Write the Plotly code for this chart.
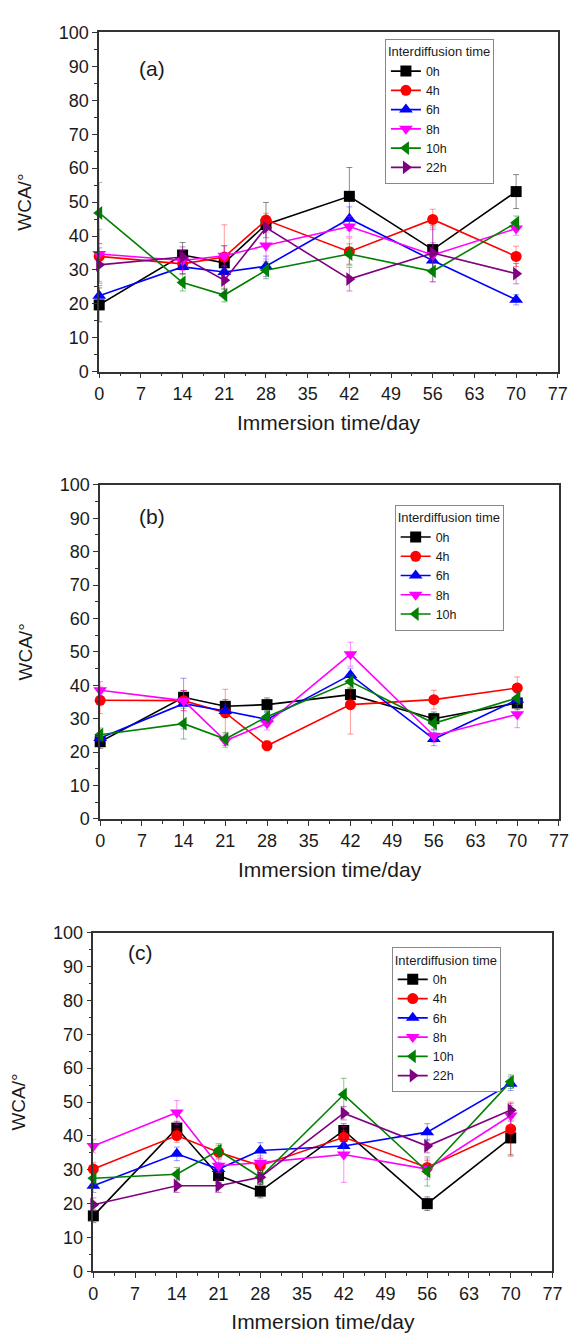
import plotly.graph_objects as go

W, H = 580, 1344

DAYS = [0, 14, 21, 28, 42, 56, 70]
SERIES = ["0h", "4h", "6h", "8h", "10h", "22h"]
X_TICKS = [0, 7, 14, 21, 28, 35, 42, 49, 56, 63, 70, 77]
Y_TICKS = [0, 10, 20, 30, 40, 50, 60, 70, 80, 90, 100]

# panel (a)
A_WCA = [
    [19.7, 34.4, 32.1, 43.4, 51.7, 36.0, 53.1],
    [34.0, 31.8, 33.8, 44.7, 35.4, 44.9, 34.0],
    [22.4, 30.9, 29.4, 31.1, 45.1, 32.8, 21.2],
    [34.7, 32.8, 34.2, 37.2, 42.8, 34.4, 42.2],
    [46.8, 26.3, 22.6, 29.9, 34.7, 29.6, 43.9],
    [31.5, 33.8, 27.0, 42.5, 27.3, 35.0, 28.9],
]
A_ERR = [
    [5, 3.7, 5, 6.5, 8.5, 7, 5],
    [8, 3, 9.5, 2, 4, 3, 3],
    [3, 2, 2, 3, 3.5, 2.5, 1.5],
    [3, 3, 3, 4, 3, 8, 2],
    [9, 2.5, 2, 2.5, 3, 3, 2],
    [5, 3, 4, 3, 3.5, 3, 3],
]

# panel (b)
B_WCA = [
    [23.1, 36.4, 33.7, 34.2, 37.2, 30.0, 34.7],
    [35.5, 35.4, 31.8, 21.9, 34.2, 35.7, 39.2],
    [24.2, 34.5, 32.3, 29.8, 43.1, 23.9, 35.7],
    [38.5, 35.4, 23.4, 28.6, 49.3, 24.9, 31.3],
    [25.2, 28.5, 23.9, 30.6, 41.1, 28.6, 36.2],
]
B_ERR = [
    [2, 2, 2, 2, 2, 2, 2],
    [4, 3, 7, 1.5, 8.8, 2.8, 3.3],
    [2, 7.6, 2, 2, 2, 2, 2],
    [2.6, 3, 2, 2, 3.6, 2, 4],
    [2, 4.6, 2, 2, 2, 2, 2],
]

# panel (c)
C_WCA = [
    [16.4, 42.3, 28.3, 23.7, 41.6, 20.0, 39.4],
    [30.2, 40.1, 35.2, 31.2, 39.6, 30.7, 42.0],
    [25.3, 34.7, 30.2, 35.7, 37.0, 41.1, 55.4],
    [37.0, 46.9, 31.2, 32.1, 34.5, 30.2, 46.0],
    [27.5, 28.7, 35.7, 27.8, 52.2, 29.5, 56.0],
    [19.7, 25.3, 25.3, 27.8, 46.7, 37.0, 47.6],
]
C_ERR = [
    [2, 2, 2, 2, 2, 2, 5],
    [2, 2, 2, 2, 2, 2, 8],
    [2, 2, 2, 2.3, 2, 2.5, 2],
    [2, 3.5, 2, 2, 8.2, 3, 3],
    [2, 2, 2, 2, 4.8, 4.3, 2],
    [2, 2, 2, 2, 2, 2, 2],
]

COLORS = ["#000000", "#ff0000", "#0000ff", "#ff00ff", "#008000", "#800080"]
ERR_COLORS = ["rgba(0,0,0,0.45)", "rgba(255,0,0,0.4)", "rgba(0,0,255,0.4)",
              "rgba(255,0,255,0.45)", "rgba(0,128,0,0.45)", "rgba(128,0,128,0.45)"]
SYMBOLS = ["square", "circle", "triangle-up", "triangle-down", "triangle-left", "triangle-right"]
SIZES = [11, 11, 12, 12, 12, 12]

FONT = "Liberation Sans, Arial, sans-serif"
TXT = "#1a1a1a"

# panel boxes in pixels: (left, right, top, bottom)
PANELS = [
    ("a", A_WCA, A_ERR, (96.7, 567.5, 22.8, 367.2), (390, 29), (135, 46)),
    ("b", B_WCA, B_ERR, (97.7, 568.7, 482.0, 821.1), (400, 502), (135, 514)),
    ("c", C_WCA, C_ERR, (90.7, 562.0, 936.5, 1280.5), (397, 951), (124, 970)),
]

fig = go.Figure()
layout = dict(
    width=W, height=H,
    margin=dict(l=0, r=0, t=0, b=0),
    paper_bgcolor="white", plot_bgcolor="white",
    font=dict(family=FONT, color=TXT),
    showlegend=True,
)
annotations = []

for i, (tag, vals, errs, box, legpos, labpos) in enumerate(PANELS):
    n = "" if i == 0 else str(i + 1)
    xa, ya = "x" + n, "y" + n
    leg = "legend" + n
    left, right, top, bottom = box
    for j, (v, e) in enumerate(zip(vals, errs)):
        fig.add_trace(go.Scatter(
            x=DAYS, y=v, name=SERIES[j], mode="lines+markers",
            xaxis=xa, yaxis=ya, legend=leg, cliponaxis=False,
            line=dict(color=COLORS[j], width=1.6),
            marker=dict(symbol=SYMBOLS[j], size=SIZES[j], color=COLORS[j],
                        line=dict(width=0)),
            error_y=dict(type="data", array=e, visible=True,
                         color=ERR_COLORS[j], thickness=1, width=3),
        ))
    axcommon = dict(
        showline=True, linecolor="#333333", linewidth=1.5, mirror=True,
        showgrid=False, zeroline=False, ticks="outside", ticklen=5,
        tickwidth=1.2, tickcolor="#333333",
        tickfont=dict(size=18, family=FONT, color=TXT),
    )
    layout["xaxis" + n] = dict(
        axcommon, domain=[left / W, right / W], anchor=ya, range=[0, 77],
        tickmode="array", tickvals=X_TICKS,
        minor=dict(dtick=3.5, tick0=0, ticks="outside", ticklen=3, tickcolor="#333333"),
        title=dict(text="Immersion time/day", font=dict(size=21, family=FONT, color=TXT),
                   standoff=12),
    )
    layout["yaxis" + n] = dict(
        axcommon, domain=[1 - bottom / H, 1 - top / H], anchor=xa, range=[0, 100],
        tickmode="array", tickvals=Y_TICKS,
        minor=dict(dtick=5, tick0=0, ticks="outside", ticklen=3, tickcolor="#333333"),
        title=dict(text="WCA/°", font=dict(size=19, family=FONT, color=TXT),
                   standoff=22),
    )
    layout[leg] = dict(
        x=legpos[0] / W, y=1 - legpos[1] / H, xanchor="left", yanchor="top",
        bgcolor="white", bordercolor="#888888", borderwidth=1,
        font=dict(size=12.5, family=FONT, color=TXT),
        title=dict(text="Interdiffusion time", font=dict(size=13, family=FONT, color=TXT)),
        itemwidth=30, tracegroupgap=0,
    )
    annotations.append(dict(
        text="(" + tag + ")", x=labpos[0] / W, y=1 - labpos[1] / H,
        xref="paper", yref="paper", showarrow=False,
        font=dict(size=21, family=FONT, color=TXT),
    ))

layout["annotations"] = annotations
fig.update_layout(**layout)
fig.write_html("out.html")
